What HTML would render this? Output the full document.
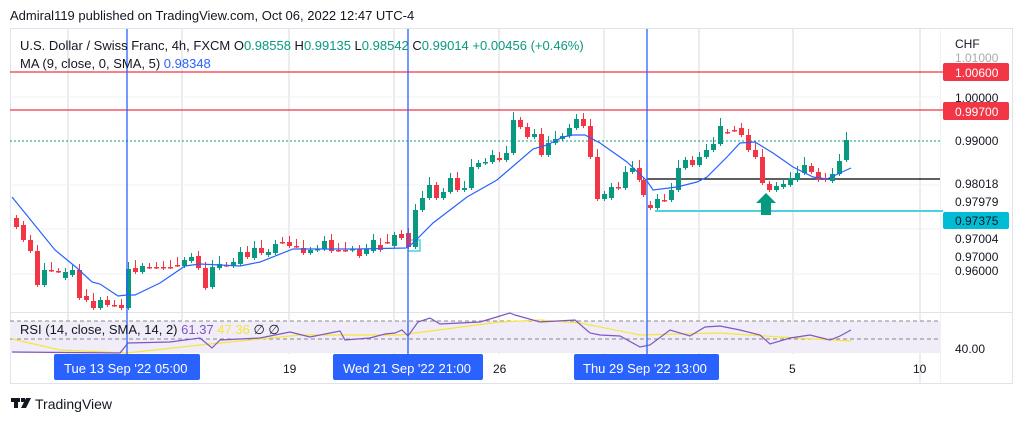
<!DOCTYPE html>
<html><head><meta charset="utf-8"><style>
body{margin:0;background:#fff;font-family:"Liberation Sans",sans-serif;}
svg text{font-family:"Liberation Sans",sans-serif;}
</style></head><body>
<svg id="s" width="1024" height="422" viewBox="0 0 1024 422" xmlns="http://www.w3.org/2000/svg">
<rect width="1024" height="422" fill="#fff"/>
<text x="10" y="20" font-size="13" fill="#131722">Admiral119 published on TradingView.com, Oct 06, 2022 12:47 UTC-4</text>
<rect x="10.5" y="28.5" width="1002" height="355" fill="none" stroke="#e0e3eb"/>
<g id="grid" stroke="#d8d8dc" stroke-width="1">
<line x1="68" y1="29" x2="68" y2="354"/><line x1="182" y1="29" x2="182" y2="354"/>
<line x1="289" y1="29" x2="289" y2="354"/><line x1="394" y1="29" x2="394" y2="354"/>
<line x1="499" y1="29" x2="499" y2="354"/><line x1="604" y1="29" x2="604" y2="354"/>
<line x1="699" y1="29" x2="699" y2="354"/><line x1="793" y1="29" x2="793" y2="354"/>
<line x1="920" y1="29" x2="920" y2="383"/>
</g>
<g stroke="#f0f1f4"><line x1="10" y1="97" x2="940" y2="97"/><line x1="10" y1="185" x2="940" y2="185"/><line x1="10" y1="229" x2="940" y2="229"/><line x1="10" y1="274" x2="940" y2="274"/></g>
<line x1="10" y1="312.5" x2="1012" y2="312.5" stroke="#e0e3eb"/>
<line x1="940.5" y1="29" x2="940.5" y2="383" stroke="#f0f1f4"/>
<rect x="10" y="321" width="930" height="32" fill="#f0ecf8"/>
<line x1="10" y1="321" x2="940" y2="321" stroke="#888" stroke-dasharray="4,3"/>
<line x1="10" y1="339" x2="940" y2="339" stroke="#888" stroke-dasharray="4,3"/>
<line x1="10" y1="72" x2="943" y2="72" stroke="#f23645" stroke-width="1.3"/>
<line x1="10" y1="110" x2="943" y2="110" stroke="#f23645" stroke-width="1.3"/>
<line x1="10" y1="141" x2="940" y2="141" stroke="#089981" stroke-dasharray="2,2"/>
<line x1="647" y1="179" x2="940" y2="179" stroke="#000" stroke-width="1.3"/>
<line x1="655" y1="211" x2="943" y2="211" stroke="#4dd0e1" stroke-width="2"/>
<polyline points="408,251 420,251 420,240 408,240" fill="none" stroke="#4dd0e1" stroke-width="1.5"/>
<g id="candles"></g>
<polyline fill="none" stroke="#2962ff" stroke-width="1.2" points="12,197 55,250 77,268 92,282 100,284 118,296 127,295 135,295 160,283 185,266 200,264 240,266 260,262 293,249 357,249 406,248 413,243 433,223 467,197 497,180 533,149 547,145 563,137 573,135 585,135 600,143 627,162 647,181 653,190 677,187 697,182 707,177 727,157 740,143 755,142 773,153 793,167 813,177 827,179 840,173 851,168"/>
<polyline fill="none" stroke="#f5e63c" stroke-width="1.2" points="12,339 60,350 127,353 200,345 300,335 400,335 500,322 540,320 580,323 640,335 720,333 780,337 851,341"/>
<polyline fill="none" stroke="#7e57c2" stroke-width="1.2" points="12,352 120,353 128,343 170,342 200,338 212,348 220,340 260,338 290,332 310,337 340,331 345,340 370,338 385,334 395,333 402,330 408,336 418,322 430,318 440,324 460,323 480,322 500,316 510,313 515,315 540,322 575,320 590,333 600,335 620,336 640,347 650,345 670,330 690,336 705,327 720,326 740,330 760,335 770,344 790,338 810,335 830,340 840,336 851,330"/>
<g stroke="#2962ff" stroke-width="1.3"><line x1="127" y1="29" x2="127" y2="354"/><line x1="408" y1="29" x2="408" y2="354"/><line x1="647" y1="29" x2="647" y2="354"/></g>
<polygon points="766,193 776,203 771,203 771,215 761,215 761,203 756,203" fill="#089981"/>
<text x="20" y="50" font-size="13" fill="#131722">U.S. Dollar / Swiss Franc, 4h, FXCM  O<tspan fill="#089981">0.98558</tspan>  H<tspan fill="#089981">0.99135</tspan>  L<tspan fill="#089981">0.98542</tspan>  C<tspan fill="#089981">0.99014  +0.00456 (+0.46%)</tspan></text>
<text x="20" y="68" font-size="13" fill="#131722">MA (9, close, 0, SMA, 5)  <tspan fill="#2962ff">0.98348</tspan></text>
<text x="20" y="334" font-size="13" fill="#131722">RSI (14, close, SMA, 14, 2)  <tspan fill="#7e57c2">61.37</tspan>  <tspan fill="#f5e63c">47.36</tspan>  ∅  ∅</text>
<g font-size="12" fill="#131722">
<text x="955" y="62" fill="#aaa">1.01000</text>
<text x="955" y="48">CHF</text>
<text x="955" y="102">1.00000</text>
<text x="955" y="145">0.99000</text>
<text x="955" y="188">0.98018</text>
<text x="955" y="206">0.97979</text>
<text x="955" y="243">0.97004</text>
<text x="955" y="261">0.97000</text>
<text x="955" y="275">0.96000</text>
<text x="955" y="353">40.00</text>
<text x="283" y="373">19</text><text x="493" y="373">26</text><text x="789" y="373">5</text><text x="913" y="373">10</text>
</g>
<rect x="943" y="63" width="66" height="18" rx="2" fill="#f23645"/><text x="955" y="77" font-size="12" fill="#fff">1.00600</text>
<rect x="943" y="102" width="66" height="18" rx="2" fill="#f23645"/><text x="955" y="116" font-size="12" fill="#fff">0.99700</text>
<rect x="943" y="212" width="66" height="17" rx="2" fill="#00bcd4"/><text x="955" y="225" font-size="12" fill="#131722">0.97375</text>
<rect x="54" y="354" width="146" height="26" rx="2" fill="#2962ff"/><text x="64" y="373" font-size="13" fill="#fff">Tue 13 Sep '22   05:00</text>
<rect x="333" y="354" width="150" height="26" rx="2" fill="#2962ff"/><text x="343" y="373" font-size="13" fill="#fff">Wed 21 Sep '22   21:00</text>
<rect x="574" y="354" width="145" height="26" rx="2" fill="#2962ff"/><text x="583" y="373" font-size="13" fill="#fff">Thu 29 Sep '22   13:00</text>
<g fill="#131722"><rect x="11" y="398" width="9" height="4"/><rect x="14" y="398" width="4" height="10"/><rect x="21" y="398" width="4" height="4"/><polygon points="26,398 31,398 26,408 21,408"/></g>
<text x="35" y="409" font-size="14" fill="#131722">TradingView</text>
</svg>
<script>
var d=[[14,218,227],[21,225,240],[28,240,251],[35,251,285],[42,285,270],[49,270,270],[56,271,271],[63,278,272],[70,275,270],[77,270,298],[84,296,300],[91,301,308],[98,308,300],[105,300,305],[112,305,305],[119,305,308],[126,308,269],[133,268,272],[140,272,266],[147,267,267],[154,267,267],[161,267,268],[168,267,267],[175,265,265],[182,266,260],[189,261,257],[196,256,268],[203,268,288],[210,287,267],[217,268,264],[224,265,265],[231,266,262],[238,264,252],[245,252,257],[252,258,248],[259,248,253],[266,255,252],[273,253,244],[280,242,242],[287,242,246],[294,246,246],[301,248,253],[308,253,250],[315,250,249],[322,249,241],[329,240,251],[336,250,250],[343,250,250],[350,250,249],[357,249,256],[364,254,249],[371,251,240],[378,245,250],[385,242,242],[392,246,235],[399,234,238],[406,233,247],[413,247,210],[420,210,198],[427,198,185],[434,185,198],[441,198,192],[448,192,178],[455,178,190],[462,190,188],[469,188,167],[476,167,163],[483,163,162],[490,162,155],[497,158,160],[504,160,153],[511,153,120],[518,120,127],[525,127,137],[532,137,134],[539,134,155],[546,155,143],[553,143,139],[560,139,136],[567,136,128],[574,128,119],[581,119,126],[588,126,157],[595,157,199],[602,199,194],[609,198,187],[616,187,188],[623,188,172],[630,172,168],[637,168,180],[641,180,195],[648,205,208],[655,208,199],[662,200,200],[669,200,190],[676,190,168],[683,168,160],[690,160,165],[697,165,157],[704,157,150],[711,150,144],[718,144,126],[725,132,132],[732,130,130],[739,128,135],[746,135,150],[753,150,157],[760,157,183],[767,184,190],[774,190,186],[781,187,184],[788,185,178],[795,180,173],[802,173,165],[809,166,172],[816,172,180],[823,178,180],[830,181,174],[837,174,161],[844,160,140]];
var g=document.getElementById('candles'),h='';
d.forEach(function(c,i){var up=c[2]<c[1],col=up?'#089981':'#f23645',t=Math.min(c[1],c[2]),b=Math.max(c[1],c[2]);var w1=3+(i*7)%6,w2=2+(i*5)%5;
h+='<line x1="'+(c[0]+2.5)+'" x2="'+(c[0]+2.5)+'" y1="'+(t-w1)+'" y2="'+(b+w2)+'" stroke="'+col+'"/>';
h+='<rect x="'+c[0]+'" y="'+t+'" width="5" height="'+Math.max(1.5,b-t)+'" fill="'+col+'"/>';});
g.innerHTML=h;
</script>
</body></html>
